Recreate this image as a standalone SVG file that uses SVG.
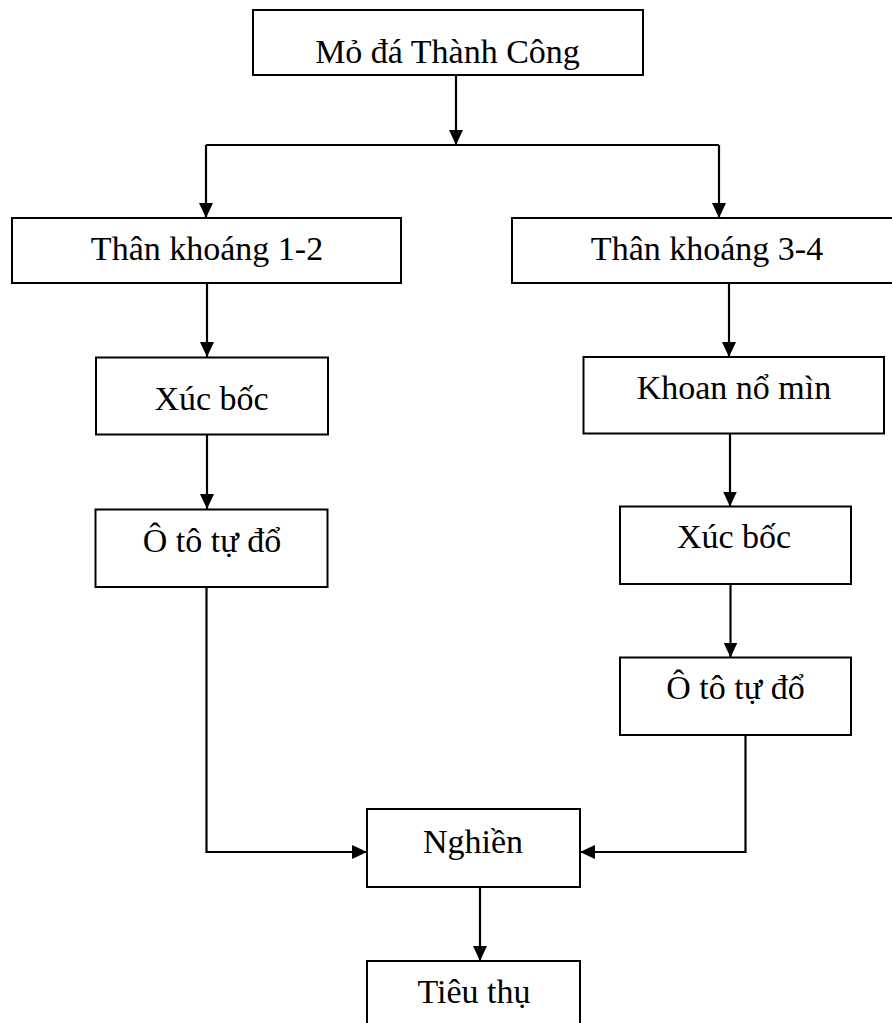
<svg xmlns="http://www.w3.org/2000/svg" width="892" height="1023" viewBox="0 0 892 1023">
<style>
.box{fill:#fff;stroke:#000;stroke-width:2}
.lbl{font-family:"Liberation Serif","Times New Roman",serif;font-size:34px;fill:#000;text-anchor:middle}
.conn{fill:none;stroke:#000;stroke-width:2.2}
</style>
<defs>
<marker id="arr" markerUnits="userSpaceOnUse" markerWidth="16" markerHeight="14" refX="15" refY="7" orient="auto">
<path d="M0,0 L15,7 L0,14 z" fill="#000"/>
</marker>
</defs>
<rect width="892" height="1023" fill="#fff"/>
<g id="connectors">
<path class="conn" d="M456,75 V145" marker-end="url(#arr)"/>
<path class="conn" d="M206,145 H719"/>
<path class="conn" d="M206,145 V218" marker-end="url(#arr)"/>
<path class="conn" d="M719,145 V218" marker-end="url(#arr)"/>
<path class="conn" d="M207,283 V357" marker-end="url(#arr)"/>
<path class="conn" d="M207,434 V509" marker-end="url(#arr)"/>
<path class="conn" d="M206.5,587 V852 H367" marker-end="url(#arr)"/>
<path class="conn" d="M729,283 V357" marker-end="url(#arr)"/>
<path class="conn" d="M730,433 V506.5" marker-end="url(#arr)"/>
<path class="conn" d="M730.5,584 V657.5" marker-end="url(#arr)"/>
<path class="conn" d="M745.5,735 V852 H580" marker-end="url(#arr)"/>
<path class="conn" d="M480,887 V961" marker-end="url(#arr)"/>
</g>
<g id="mo-da"><rect class="box" x="253" y="10" width="390" height="65"/><text class="lbl" x="447.5" y="63">Mỏ đá Thành Công</text></g>
<g id="than-khoang-12"><rect class="box" x="12" y="218" width="389" height="65"/><text class="lbl" x="207" y="260">Thân khoáng 1-2</text></g>
<g id="than-khoang-34"><rect class="box" x="512" y="218" width="392" height="65"/><text class="lbl" x="707" y="260">Thân khoáng 3-4</text></g>
<g id="xuc-boc-1"><rect class="box" x="96" y="357.5" width="232" height="77"/><text class="lbl" x="211.5" y="410">Xúc bốc</text></g>
<g id="o-to-1"><rect class="box" x="95.5" y="509.5" width="232" height="77.5"/><text class="lbl" x="212" y="552">Ô tô tự đổ</text></g>
<g id="khoan-no-min"><rect class="box" x="583.5" y="357" width="300.5" height="76.5"/><text class="lbl" x="734" y="399">Khoan nổ mìn</text></g>
<g id="xuc-boc-2"><rect class="box" x="620" y="506.5" width="231" height="77.5"/><text class="lbl" x="734" y="548">Xúc bốc</text></g>
<g id="o-to-2"><rect class="box" x="620" y="657.5" width="231" height="77.5"/><text class="lbl" x="735.5" y="699">Ô tô tự đổ</text></g>
<g id="nghien"><rect class="box" x="367" y="809" width="213" height="78"/><text class="lbl" x="473" y="853">Nghiền</text></g>
<g id="tieu-thu"><rect class="box" x="367" y="961" width="213" height="80"/><text class="lbl" x="474" y="1003">Tiêu thụ</text></g>
</svg>
